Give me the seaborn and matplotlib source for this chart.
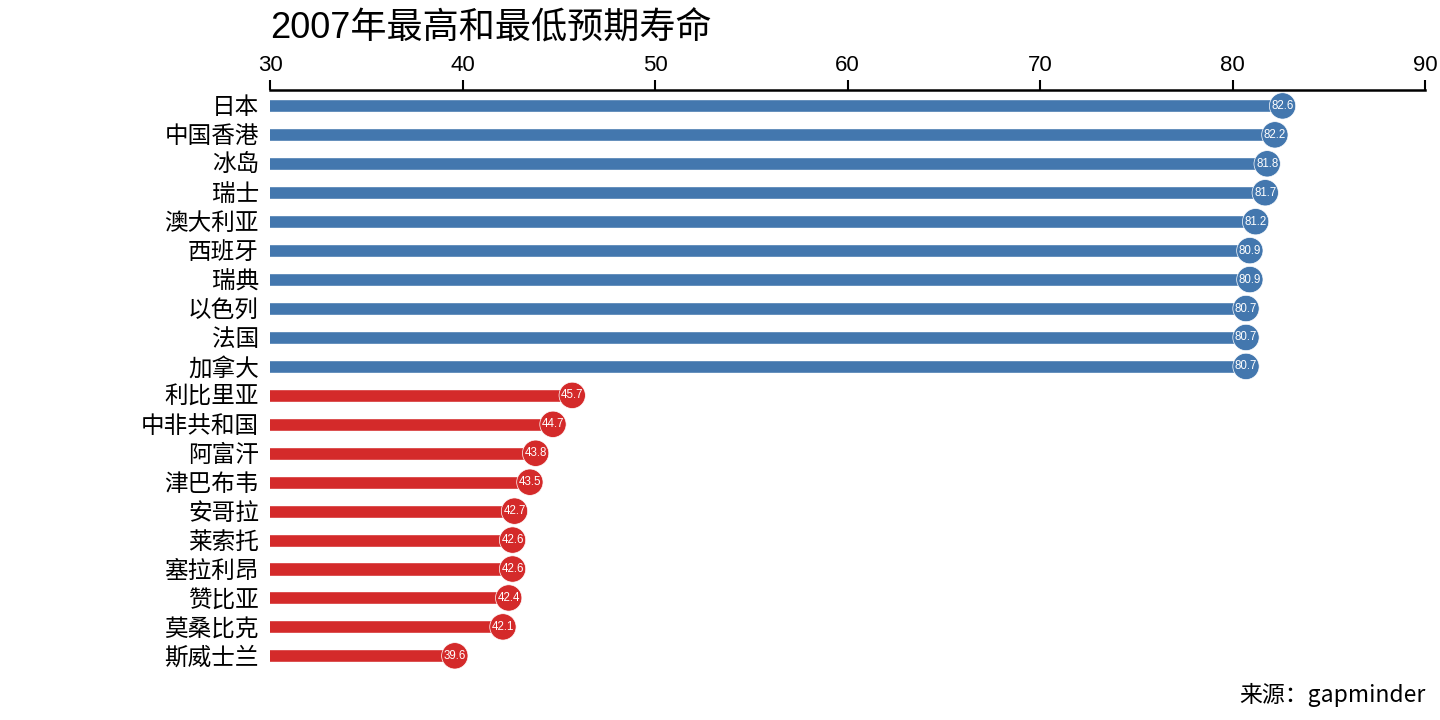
import matplotlib
matplotlib.use("Agg")
import matplotlib.pyplot as plt
import seaborn as sns
import pandas as pd

countries = ["日本", "中国香港", "冰岛", "瑞士", "澳大利亚", "西班牙", "瑞典", "以色列", "法国", "加拿大",
             "利比里亚", "中非共和国", "阿富汗", "津巴布韦", "安哥拉", "莱索托", "塞拉利昂", "赞比亚", "莫桑比克", "斯威士兰"]
life_exp = [82.6, 82.2, 81.8, 81.7, 81.2, 80.9, 80.9, 80.7, 80.7, 80.7,
            45.7, 44.7, 43.8, 43.5, 42.7, 42.6, 42.6, 42.4, 42.1, 39.6]
groups = ["最高"] * 10 + ["最低"] * 10
xticks = [30, 40, 50, 60, 70, 80, 90]

colors = {"最高": "#4377ae", "最低": "#d42a2a"}

df = pd.DataFrame({"country": countries, "life": life_exp, "group": groups})

sns.set_theme(style="white")
plt.rcParams['font.family'] = ['Liberation Sans', 'Noto Sans CJK SC', 'DejaVu Sans']

fig = plt.figure(figsize=(14.4, 7.2), dpi=100)
ax = fig.add_axes([0.1875, 0.067, 0.8021, 0.808])

sns.barplot(data=df, x="life", y="country", hue="group", palette=colors,
            dodge=False, width=0.45, legend=False, ax=ax, orient="h", saturation=1)
sns.scatterplot(data=df, x="life", y="country", hue="group", palette=colors,
                s=360, legend=False, ax=ax, edgecolor="white", linewidth=0.5, zorder=5)

for i, v in enumerate(life_exp):
    ax.text(v, i, f"{v:.1f}", color="white", ha="center", va="center", fontsize=8.3, zorder=6)

ax.set_xlim(30, 90)
ax.set_ylim(len(countries) - 0.45, -0.55)
ax.set_xticks(xticks)
ax.xaxis.tick_top()
ax.xaxis.set_label_position("top")
ax.set_xlabel("")
ax.set_ylabel("")
for s in ["left", "right", "bottom"]:
    ax.spines[s].set_visible(False)
ax.spines["top"].set_linewidth(1.8)
ax.spines["top"].set_color("black")
ax.tick_params(axis="x", which="major", direction="out", length=7, width=1.5, color="black",
               labelsize=16, pad=3, top=True, bottom=False)
ax.tick_params(axis="y", length=0, labelsize=17, pad=8)
for lab in ax.get_yticklabels():
    lab.set_color("black")
for lab in ax.get_xticklabels():
    lab.set_color("black")

fig.text(0.1875, 0.96, "2007年最高和最低预期寿命", fontsize=26, ha="left", va="center", color="black")
fig.text(0.99, 0.035, "来源：gapminder", fontsize=16.5, ha="right", va="center", color="black",
         family=['Noto Sans CJK SC', 'DejaVu Sans'])

fig.savefig("out.png", dpi=100, facecolor="white")
